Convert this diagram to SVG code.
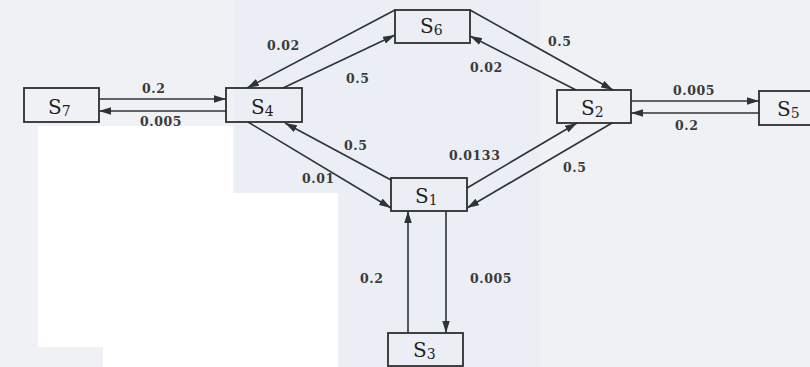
<svg xmlns="http://www.w3.org/2000/svg" width="810" height="367" viewBox="0 0 810 367">
  <defs>
    <marker id="arrow" markerUnits="userSpaceOnUse" markerWidth="12" markerHeight="8" refX="12" refY="3.75" orient="auto">
      <path d="M0,0 L12,3.75 L0,7.5 z" fill="#2b3438"/>
    </marker>
  </defs>
  <style>
    .box { fill: none; stroke: #2e2e2e; stroke-width: 1.8; }
    .edge { fill: none; stroke: #2b3438; stroke-width: 1.6; marker-end: url(#arrow); }
    .name { font-family: "DejaVu Serif", "Liberation Serif", serif; font-size: 20px; fill: #1f1f1f; }
    .sub { font-size: 14px; }
    .rate { font-family: "DejaVu Serif", "Liberation Serif", serif; font-size: 12.5px; font-weight: bold; fill: #3a3a3a; letter-spacing: 0.6px; }
  </style>

  <!-- paper background -->
  <rect x="0" y="0" width="810" height="367" fill="#eff1f5"/>
  <rect x="235" y="0" width="305" height="367" fill="#ebeef4"/>
  <polygon points="38,126 233,126 233,193 338,193 338,367 103,367 103,347 38,347" fill="#ffffff"/>

  <!-- transitions -->
  <g id="connectors">
    <line class="edge" x1="99" y1="99" x2="226" y2="99"/>
    <line class="edge" x1="226" y1="111" x2="99" y2="111"/>
    <line class="edge" x1="395" y1="10" x2="247" y2="88"/>
    <line class="edge" x1="283" y1="88" x2="395" y2="35"/>
    <line class="edge" x1="470" y1="10" x2="613" y2="90"/>
    <line class="edge" x1="576" y1="90" x2="470" y2="36"/>
    <line class="edge" x1="631" y1="101" x2="759" y2="101"/>
    <line class="edge" x1="759" y1="113" x2="631" y2="113"/>
    <line class="edge" x1="467" y1="188" x2="577" y2="123"/>
    <line class="edge" x1="612" y1="123" x2="467" y2="208"/>
    <line class="edge" x1="248" y1="122" x2="391" y2="208"/>
    <line class="edge" x1="391" y1="180" x2="285" y2="123"/>
    <line class="edge" x1="408" y1="333" x2="408" y2="211"/>
    <line class="edge" x1="446" y1="211" x2="446" y2="333"/>

    <text class="rate" x="142" y="93">0.2</text>
    <text class="rate" x="140" y="126">0.005</text>
    <text class="rate" x="267" y="50">0.02</text>
    <text class="rate" x="346" y="83">0.5</text>
    <text class="rate" x="548" y="46">0.5</text>
    <text class="rate" x="470" y="72">0.02</text>
    <text class="rate" x="673" y="95">0.005</text>
    <text class="rate" x="675" y="130">0.2</text>
    <text class="rate" x="449" y="160">0.0133</text>
    <text class="rate" x="563" y="172">0.5</text>
    <text class="rate" x="302" y="183">0.01</text>
    <text class="rate" x="344" y="150">0.5</text>
    <text class="rate" x="360" y="283">0.2</text>
    <text class="rate" x="470" y="283">0.005</text>
  </g>

  <!-- states -->
  <g id="S7">
    <rect class="box" x="24" y="88" width="75" height="34"/>
    <text class="name" x="48" y="114">S<tspan class="sub" dy="2">7</tspan></text>
  </g>
  <g id="S4">
    <rect class="box" x="226" y="88" width="76" height="34"/>
    <text class="name" x="251" y="114">S<tspan class="sub" dy="2">4</tspan></text>
  </g>
  <g id="S6">
    <rect class="box" x="395" y="10" width="75" height="33"/>
    <text class="name" x="420" y="33">S<tspan class="sub" dy="2">6</tspan></text>
  </g>
  <g id="S2">
    <rect class="box" x="557" y="90" width="74" height="33"/>
    <text class="name" x="581" y="115">S<tspan class="sub" dy="2">2</tspan></text>
  </g>
  <g id="S5">
    <rect class="box" x="759" y="91" width="80" height="34"/>
    <text class="name" x="777" y="116">S<tspan class="sub" dy="2">5</tspan></text>
  </g>
  <g id="S1">
    <rect class="box" x="391" y="178" width="76" height="33"/>
    <text class="name" x="415" y="203">S<tspan class="sub" dy="2">1</tspan></text>
  </g>
  <g id="S3">
    <rect class="box" x="388" y="333" width="75" height="33"/>
    <text class="name" x="413" y="357">S<tspan class="sub" dy="2">3</tspan></text>
  </g>
</svg>
